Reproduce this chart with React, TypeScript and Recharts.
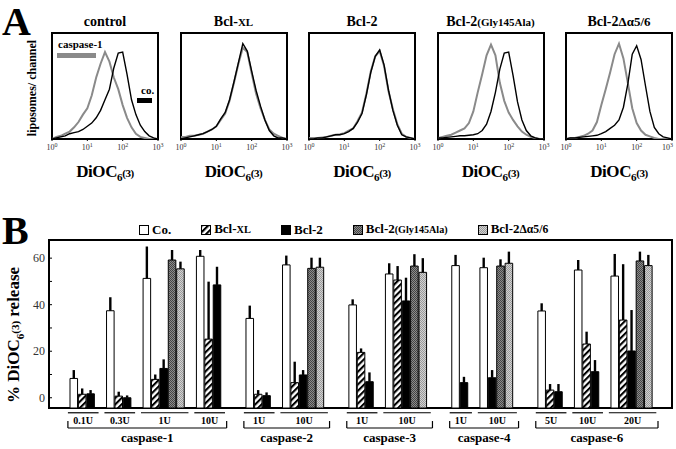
import React from "react";
import {
  Bar,
  BarChart,
  Cell,
  ErrorBar,
  Line,
  LineChart,
  ReferenceArea,
  ReferenceLine,
  XAxis,
  YAxis,
} from "recharts";

const SERIF = '"Liberation Serif", "Times New Roman", serif';

// ---------- A: DiOC6(3) histograms ----------
// channel positions on the log axis
const CHANNELS = [1, 1.33, 1.78, 2.37, 3.16, 4.22, 5.62, 7.5, 10, 13.3, 17.8, 23.7, 31.6, 42.2, 56.2, 75, 100, 133, 178, 237, 316, 422, 562, 750, 1000];

// counts as % of panel height, grey = + caspase-1, black = co.
const controlCasp = [0, 2, 3, 5, 7, 11, 16, 23, 29, 41, 58, 71, 82, 73, 58, 47, 32, 20, 11, 5, 2, 1, 0, 0, 0];
const controlCo = [0, 1, 2, 3, 5, 6, 7, 9, 12, 15, 20, 27, 37, 47, 67, 81, 82, 61, 37, 23, 13, 7, 3, 1, 0];
const bclxlCasp = [2, 2, 3, 3, 4, 5, 7, 9, 12, 18, 24, 36, 53, 71, 86, 82, 62, 43, 29, 18, 9, 5, 3, 1, 0];
const bclxlCo = [0, 1, 2, 3, 4, 5, 7, 9, 12, 19, 25, 37, 54, 72, 90, 83, 64, 46, 31, 18, 8, 3, 1, 1, 0];
const bcl2Casp = [1, 1, 1, 1.5, 2, 3, 4, 4.5, 5.5, 8, 10, 17, 25, 43, 64, 78, 83, 69, 45, 28, 14, 5, 2, 1, 0];
const bcl2Co = [0, 0, 1, 1, 2, 3, 4, 4, 5, 7, 10, 16, 24, 42, 63, 78, 84, 70, 46, 27, 13, 4, 2, 1, 0];
const glyCasp = [1, 2, 3, 4, 6, 8, 10, 15, 26, 44, 61, 79, 89, 79, 53, 36, 25, 18, 12, 7, 4, 2, 1, 0, 0];
const glyCo = [1, 1, 1.5, 2, 2.5, 3, 3, 3.5, 4, 5, 8, 14, 26, 44, 66, 81, 82, 60, 35, 18, 8, 3, 1, 0, 0];
const deltaCasp = [0, 1, 1, 2, 3, 5, 8, 16, 32, 47, 63, 80, 90, 76, 53, 29, 15, 8, 4, 2.5, 1, 0, 0, 0, 0];
const deltaCo = [0, 1, 1, 1.5, 2, 2.5, 3, 3.5, 5, 7, 10, 13, 18, 30, 52, 80, 88, 75, 50, 26, 11, 5, 2, 1, 0];

// ---------- B: % release bars ----------
const SERIES = ["Co.", "Bcl-XL", "Bcl-2", "Bcl-2(Gly145Ala)", "Bcl-2Δα5/6"];
const CASPASES = ["caspase-1", "caspase-2", "caspase-3", "caspase-4", "caspase-6"];
const DOSES = [
  ["0.1U", "0.3U", "1U", "10U"],
  ["1U", "10U"],
  ["1U", "10U"],
  ["1U", "10U"],
  ["5U", "10U", "20U"],
];
// mean release per dose, series order as SERIES (null = not done)
const MEAN = [
  [[8.3, 1.5, 1.7, null, null], [37.4, 0.7, 0, null, null], [51.3, 7.9, 12.6, 59.2, 55.4], [60.8, 25.2, 48.5, null, null]],
  [[34.1, 1.5, 0.9, null, null], [57.1, 6.5, 9.8, 55.6, 56.1]],
  [[39.9, 19.5, 6.9, null, null], [53.2, 50.6, 41.6, 56.6, 53.9]],
  [[56.8, null, 6.5, null, null], [55.9, null, 8.6, 56.6, 57.8]],
  [[37.3, 3.3, 2.6, null, null], [54.9, 23.1, 11.2, null, null], [52.3, 33.4, 20.1, 58.8, 56.8]],
];
const SD = [
  [[3.6, 2.5, 1.6, null, null], [5.8, 1.9, 1, null, null], [13.7, 2.1, 3.9, 4.3, 3.1], [2.7, 24.7, 7.8, null, null]],
  [[5.5, 1.8, 1.4, null, null], [4, 9, 2.1, 4.6, 4.1]],
  [[2.4, 1.7, 4, null, null], [4.6, 6, 10, 5.1, 6.1]],
  [[4.6, null, 2.5, null, null], [4.3, null, 3.3, 2.9, 5]],
  [[3.3, 2.6, 3.3, null, null], [4.3, 5.3, 5, null, null], [9.5, 24, 17.6, 4, 4.6]],
];
const Y_TICKS = [0, 10, 20, 30, 40, 50, 60];

const FILLS = ["#fff", "url(#hatch)", "#000", "url(#dotDark)", "url(#dotLight)"];

// layout of panel B (slot units = one bar)
const Y_MIN = -4.4;
const Y_MAX = 67.8;
const DOSE_GAP = 1.35;
const CASP_GAP = 2.9;
const BAR_PX = 8.4;
const PLOT_W = 623;
const X_MIN = -2.5;
const X_MAX = X_MIN + PLOT_W / BAR_PX;

// build the bar table + spans for the labels under the axis
const rows: any[] = [];
const doseSpans: { label: string; from: number; to: number }[] = [];
const caspSpans: { label: string; from: number; to: number }[] = [];
let pos = 0;
CASPASES.forEach((c, ci) => {
  if (ci > 0) pos += CASP_GAP;
  const cStart = pos;
  DOSES[ci].forEach((d, di) => {
    if (di > 0) pos += DOSE_GAP;
    const start = pos;
    MEAN[ci][di].forEach((v, si) => {
      if (v == null) return;
      rows.push({
        x: pos + 0.5,
        range: [Y_MIN, v],
        err: [0, SD[ci][di][si]],
        series: si,
      });
      pos += 1;
    });
    doseSpans.push({ label: d, from: start, to: pos });
  });
  caspSpans.push({ label: c, from: cStart, to: pos });
});

const LINE_Y = -6.45;
const BRACKET_Y = -13;
const BRACKET_TOP = -10;

const LogTick = (props: any) => {
  const { x, y, payload, last } = props;
  const exp = Math.round(Math.log10(payload.value));
  // the far right label of the last panel would run off the page
  const anchor = last && payload.value === 1000 ? "end" : "middle";
  return (
    <text x={anchor === "end" ? x + 1 : x} y={y + 7} textAnchor={anchor} fontFamily={SERIF} fontSize={8} fill="#333">
      10
      <tspan dy={-3} fontSize={6}>
        {exp}
      </tspan>
    </text>
  );
};

const PctTick = (props: any) => {
  const { x, y, payload } = props;
  return (
    <g>
      <line x1={x + 4} x2={x + 7} y1={y} y2={y} stroke="#000" strokeWidth={1} />
      {payload.value % 20 === 0 && (
        <text x={x} y={y} dy={4} textAnchor="end" fontFamily={SERIF} fontSize={12} fill="#333">
          {payload.value}
        </text>
      )}
    </g>
  );
};

const Dioc = ({ size }: { size: number }) => (
  <span>
    DiOC
    <span style={{ fontSize: size * 0.65, verticalAlign: -size * 0.25 }}>6</span>
    <span style={{ fontSize: size * 0.65 }}>(3)</span>
  </span>
);

const bold = { fontFamily: SERIF, fontWeight: 700, color: "#000" } as const;

function HistPanel(props: { idx: number; title: React.ReactNode; casp: number[]; co: number[]; last?: boolean; children?: React.ReactNode }) {
  const { idx, title, casp, co, last } = props;
  const left = 52 + idx * 128.5 - 20;
  const data = CHANNELS.map((ch, i) => ({ ch, casp: casp[i], co: co[i] }));
  return (
    <div style={{ position: "absolute", left, top: 0, width: 148, height: 190 }}>
      <div style={{ ...bold, position: "absolute", top: 15, width: 146, textAlign: "center", fontSize: 14, lineHeight: "14px", whiteSpace: "nowrap" }}>
        {title}
      </div>
      <LineChart width={148} height={190} data={data} margin={{ top: 33, right: 22, bottom: 15, left: 20 }}>
        <XAxis
          dataKey="ch"
          type="number"
          scale="log"
          domain={[1, 1000]}
          ticks={[1, 10, 100, 1000]}
          interval={0}
          allowDataOverflow
          axisLine={false}
          tickLine={{ stroke: "#000" }}
          tickSize={2}
          tickMargin={2}
          height={36}
          tick={<LogTick last={last} />}
        />
        <YAxis hide domain={[0, 100]} allowDataOverflow />
        <ReferenceArea x1={1} x2={1000} y1={0} y2={100} fill="none" stroke="#000" strokeWidth={2} />
        <Line type="linear" dataKey="casp" stroke="#8a8a8a" strokeWidth={2} dot={false} isAnimationActive={false} />
        <Line type="linear" dataKey="co" stroke="#000" strokeWidth={1.4} dot={false} isAnimationActive={false} />
      </LineChart>
      <div style={{ ...bold, position: "absolute", top: 163, width: 146, textAlign: "center", fontSize: 17, lineHeight: "17px", letterSpacing: -0.4 }}>
        <Dioc size={17} />
      </div>
      {props.children}
    </div>
  );
}

const Swatch = ({ si }: { si: number }) => (
  <svg width={10} height={10} style={{ marginRight: 3, flex: "none" }}>
    <rect x={0.5} y={0.5} width={9} height={9} fill={FILLS[si]} stroke="#000" strokeWidth={1} />
  </svg>
);

const seriesLabel = (si: number) => {
  if (si === 1) return <>Bcl-<span style={{ fontSize: "0.8em" }}>XL</span></>;
  if (si === 3) return <>Bcl-2<span style={{ fontSize: "0.78em" }}>(Gly145Ala)</span></>;
  if (si === 4) return <>Bcl-2<span style={{ fontSize: "0.9em" }}>Δα5/6</span></>;
  return SERIES[si];
};

function Patterns() {
  return (
    <defs>
      <pattern id="hatch" width={4.5} height={4.5} patternUnits="userSpaceOnUse" patternTransform="rotate(45)">
        <rect width={4.5} height={4.5} fill="#fff" />
        <rect width={2.1} height={4.5} fill="#000" />
      </pattern>
      <pattern id="dotDark" width={2} height={2} patternUnits="userSpaceOnUse">
        <rect width={2} height={2} fill="#8c8c8c" />
        <rect width={1} height={1} fill="#444" />
        <rect x={1} y={1} width={1} height={1} fill="#444" />
      </pattern>
      <pattern id="dotLight" width={2} height={2} patternUnits="userSpaceOnUse">
        <rect width={2} height={2} fill="#d2d2d2" />
        <rect width={1} height={1} fill="#9a9a9a" />
        <rect x={1} y={1} width={1} height={1} fill="#9a9a9a" />
      </pattern>
    </defs>
  );
}

export default function App() {
  return (
    <div style={{ position: "absolute", left: 0, top: 0, width: 676, height: 449, background: "#fff", overflow: "hidden" }}>
      {/* legend swatch patterns shared by the whole page */}
      <svg width={0} height={0} style={{ position: "absolute" }}>
        <Patterns />
      </svg>

      <div style={{ ...bold, position: "absolute", left: 2, top: 2, fontSize: 40, lineHeight: "40px" }}>A</div>
      <div
        style={{
          ...bold,
          position: "absolute",
          left: 32,
          top: 88,
          fontSize: 12,
          whiteSpace: "nowrap",
          transform: "translate(-50%, -50%) rotate(-90deg)",
        }}
      >
        liposomes/ channel
      </div>

      <HistPanel idx={0} title="control" casp={controlCasp} co={controlCo}>
        <div style={{ ...bold, position: "absolute", left: 26, top: 39, fontSize: 11, lineHeight: "11px" }}>caspase-1</div>
        <div style={{ position: "absolute", left: 25, top: 53, width: 39, height: 5, background: "#8a8a8a" }} />
        <div style={{ ...bold, position: "absolute", left: 109, top: 85, fontSize: 11, lineHeight: "11px" }}>co.</div>
        <div style={{ position: "absolute", left: 105, top: 98, width: 15, height: 5, background: "#000" }} />
      </HistPanel>
      <HistPanel idx={1} title={<>Bcl-<span style={{ fontSize: 11 }}>XL</span></>} casp={bclxlCasp} co={bclxlCo} />
      <HistPanel idx={2} title="Bcl-2" casp={bcl2Casp} co={bcl2Co} />
      <HistPanel idx={3} title={<>Bcl-2<span style={{ fontSize: 11 }}>(Gly145Ala)</span></>} casp={glyCasp} co={glyCo} />
      <HistPanel idx={4} title={<>Bcl-2<span style={{ fontSize: 13 }}>Δα5/6</span></>} casp={deltaCasp} co={deltaCo} last />

      <div style={{ ...bold, position: "absolute", left: 2, top: 211, fontSize: 40, lineHeight: "40px" }}>B</div>
      <div style={{ ...bold, position: "absolute", left: 139, top: 222, display: "flex", alignItems: "center", gap: 30, fontSize: 13, lineHeight: "14px", whiteSpace: "nowrap" }}>
        {SERIES.map((s, si) => (
          <div key={s} style={{ display: "flex", alignItems: "center" }}>
            <Swatch si={si} />
            <span>{seriesLabel(si)}</span>
          </div>
        ))}
      </div>
      <div
        style={{
          ...bold,
          position: "absolute",
          left: 15,
          top: 335,
          fontSize: 17,
          whiteSpace: "nowrap",
          transform: "translate(-50%, -50%) rotate(-90deg)",
        }}
      >
        % <Dioc size={17} /> release
      </div>

      <div style={{ position: "absolute", left: 0, top: 200 }}>
        <BarChart width={676} height={249} data={rows} margin={{ top: 40, right: 4, bottom: 41, left: 19 }}>
          <Patterns />
          <XAxis type="number" dataKey="x" domain={[X_MIN, X_MAX]} allowDataOverflow hide />
          <YAxis
            domain={[Y_MIN, Y_MAX]}
            allowDataOverflow
            ticks={Y_TICKS}
            interval={0}
            width={30}
            axisLine={false}
            tickLine={false}
            tickSize={0}
            tickMargin={4}
            tick={<PctTick />}
          />
          <ReferenceArea x1={X_MIN} x2={X_MAX} y1={Y_MIN} y2={Y_MAX} fill="none" stroke="#000" strokeWidth={2} />
          <Bar dataKey="range" barSize={BAR_PX} isAnimationActive={false}>
            {rows.map((r, i) => (
              <Cell key={i} fill={FILLS[r.series]} stroke="#000" strokeWidth={1} />
            ))}
            <ErrorBar dataKey="err" width={0} stroke="#000" strokeWidth={2.4} direction="y" />
          </Bar>
          {doseSpans.map((d, i) => (
            <ReferenceLine
              key={"d" + i}
              ifOverflow="visible"
              segment={[{ x: d.from - 0.25, y: LINE_Y }, { x: d.to + 0.4, y: LINE_Y }]}
              stroke="#000"
              strokeWidth={1.2}
              label={{ value: d.label, position: "bottom", offset: 4, fontSize: 10, fontWeight: 700, fontFamily: SERIF, fill: "#000" }}
            />
          ))}
          {caspSpans.map((c, i) => (
            <ReferenceLine
              key={"c" + i}
              ifOverflow="visible"
              segment={[{ x: c.from - 0.25, y: BRACKET_Y }, { x: c.to + 0.6, y: BRACKET_Y }]}
              stroke="#000"
              strokeWidth={1.2}
              label={{ value: c.label, position: "bottom", offset: 5, fontSize: 13, fontWeight: 700, fontFamily: SERIF, fill: "#000" }}
            />
          ))}
          {caspSpans.map((c, i) => (
            <ReferenceLine
              key={"l" + i}
              ifOverflow="visible"
              segment={[{ x: c.from - 0.25, y: BRACKET_Y }, { x: c.from - 0.25, y: BRACKET_TOP }]}
              stroke="#000"
              strokeWidth={1.2}
            />
          ))}
          {caspSpans.map((c, i) => (
            <ReferenceLine
              key={"r" + i}
              ifOverflow="visible"
              segment={[{ x: c.to + 0.6, y: BRACKET_Y }, { x: c.to + 0.6, y: BRACKET_TOP }]}
              stroke="#000"
              strokeWidth={1.2}
            />
          ))}
        </BarChart>
      </div>
    </div>
  );
}
